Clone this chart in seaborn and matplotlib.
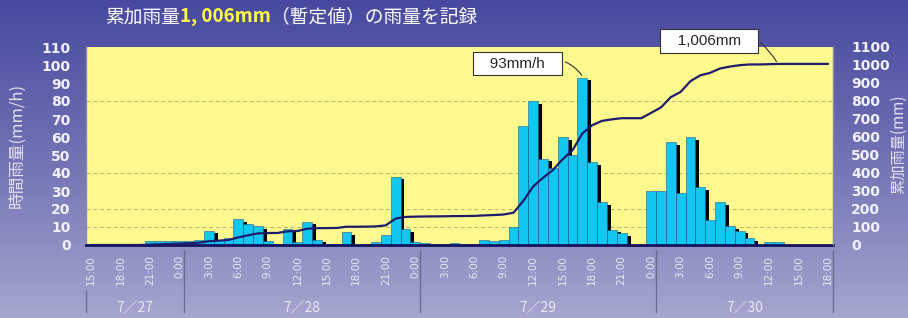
import numpy as np
import pandas as pd
import matplotlib
matplotlib.use('Agg')
import matplotlib.pyplot as plt
from matplotlib import transforms
from matplotlib.colors import LinearSegmentedColormap
import seaborn as sns


# hourly rainfall (mm/h), 7/27 15:00 .. 7/30 18:00 (0:00 = 24:00 of previous day)
rain = [0, 0, 0, 0, 0, 0, 2, 2, 2, 2,
        2, 3, 8, 3, 4, 14.5, 11.5, 10.5, 2, 0.5, 9, 1.5, 13, 3,
        0.5, 0.5, 7, 0, 0.5, 1.5, 5.5, 38, 9, 1.5,
        1, 0.5, 0.5, 1, 0.5, 0.5, 3, 2, 3, 10, 66, 80, 48, 43,
        60, 50, 93, 46, 24, 8.5, 6.5, 0, 0, 30,
        30, 57, 29, 60, 32, 14, 24, 10.5, 8, 4, 0, 1.5, 1.5, 0, 0, 0, 0, 0]

# cumulative rainfall (mm)
cum_rain = [0, 0, 0, 0, 0, 0, 2, 4, 6, 8,
            10, 13, 21, 24, 28, 42.5, 54, 64.5, 66.5, 67, 76, 77.5, 90.5, 93.5,
            94, 94.5, 101.5, 101.5, 102, 103.5, 109, 147, 156, 157.5,
            158.5, 159, 159.5, 160.5, 161, 161.5, 164.5, 166.5, 169.5, 179.5,
            245.5, 325.5, 373.5, 416.5, 476.5, 526.5, 619.5, 665.5, 689.5, 698,
            704.5, 704.5, 704.5, 734.5,
            764.5, 821.5, 850.5, 910.5, 942.5, 956.5, 980.5, 991, 999, 1003,
            1003, 1004.5, 1006, 1006, 1006, 1006, 1006, 1006]

tick_labels = ['15:00', '18:00', '21:00', '0:00',
               '3:00', '6:00', '9:00', '12:00', '15:00', '18:00', '21:00', '0:00',
               '3:00', '6:00', '9:00', '12:00', '15:00', '18:00', '21:00', '0:00',
               '3:00', '6:00', '9:00', '12:00', '15:00', '18:00']
days = ['7／27', '7／28', '7／29', '7／30']
day_hours = [10, 24, 24, 18]
grid_levels = [10, 20, 40, 80]

sns.set_style('white')
plt.rcParams['font.family'] = ['Noto Sans CJK JP', 'DejaVu Sans']

df = pd.DataFrame({'idx': np.arange(len(rain)), 'rain': rain, 'cum': cum_rain})

W, H = 908, 318
fig = plt.figure(figsize=(W / 100, H / 100), dpi=100)

# gradient background
bg = fig.add_axes([0, 0, 1, 1], zorder=-10)
cmap = LinearSegmentedColormap.from_list('bg', ['#4848a0', '#7272b4', '#a6a6cf'])
bg.imshow(np.linspace(0, 1, 256).reshape(-1, 1), aspect='auto', cmap=cmap,
          extent=[0, 1, 0, 1], origin='upper')
bg.axis('off')

ax = fig.add_axes([86 / W, 1 - 245 / H, (833 - 86) / W, (245 - 47) / H])
ax.set_facecolor('#fdf98f')

# bars with a black "3D" shadow
shadow = df['rain'].where(df['rain'] > 1.5, 0) - 1.5
ax.bar(df['idx'], shadow.clip(lower=0), width=0.9, align='edge',
       color='black', lw=0, zorder=1)
sns.barplot(data=df, x='idx', y='rain', ax=ax, color='#12c6f2', saturation=1,
            width=1, edgecolor='#1d5d92', linewidth=0.4, errorbar=None, zorder=2)

for g in grid_levels:
    ax.axhline(g, color='#bdb36a', lw=0.7, ls=(0, (4, 3)), zorder=0.5)

ax.set_ylim(0, 110)
ax.set_yticks(range(0, 111, 10))
ax.set_xlim(-0.5, len(rain) - 0.5)
ax.set_xticks(range(0, len(rain), 3))
ax.set_xticklabels(tick_labels, rotation=90, fontsize=7.5, color='#e8e8f4',
                   family='DejaVu Sans')
ax.tick_params(axis='x', length=0, pad=7)
ax.tick_params(axis='y', length=0, pad=11, labelsize=10, labelcolor='#f2f2ff')
for lab in ax.get_yticklabels():
    lab.set_fontweight('bold')
    lab.set_family('DejaVu Sans')
ax.set_xlabel('')
ax.set_ylabel('')
ax.spines['top'].set_visible(False)
ax.spines['bottom'].set_color('#14145e')
ax.spines['bottom'].set_linewidth(2)
for s in ['left', 'right']:
    ax.spines[s].set_color('#8a8aa8')
    ax.spines[s].set_linewidth(1)

# cumulative line
ax2 = ax.twinx()
sns.lineplot(data=df, x='idx', y='cum', ax=ax2, color='#1d1d6b', lw=1.6)
ax2.set_ylim(0, 1100)
ax2.set_yticks(range(0, 1101, 100))
ax2.tick_params(axis='y', length=0, pad=13, labelsize=10, labelcolor='#f2f2ff')
for lab in ax2.get_yticklabels():
    lab.set_fontweight('bold')
    lab.set_family('DejaVu Sans')
ax2.set_ylabel('')
ax2.set_xlabel('')
for s in ['top', 'bottom', 'left']:
    ax2.spines[s].set_visible(False)
ax2.spines['right'].set_color('#8a8aa8')
ax.set_xlim(-0.5, len(rain) - 0.5)

# day groups below the time labels
trans = transforms.blended_transform_factory(ax.transData, ax.transAxes)
edges = np.concatenate([[0], np.cumsum(day_hours)]) - 0.5
for k, e in enumerate(edges):
    y0 = -0.23 if k == 0 else -0.025
    ax.plot([e, e], [y0, -0.34], transform=trans, color='#6c6c90', lw=1,
            clip_on=False)
for k, d in enumerate(days):
    ax.text((edges[k] + edges[k + 1]) / 2, -0.315, d, transform=trans,
            ha='center', va='center', fontsize=10, color='#e8e8f4')

# annotations
ax.annotate('   93mm/h   ', xy=(50.1, 93), xytext=(43.4, 100.8), ha='center',
            va='center', fontsize=11, family='Liberation Sans',
            bbox=dict(boxstyle='square,pad=0.3', fc='white', ec='#333333', lw=0.8),
            arrowprops=dict(arrowstyle='-', color='#333333', lw=0.8,
                            relpos=(1, 0.8), connectionstyle='arc3,rad=-0.2'),
            annotation_clip=False, zorder=6)
ax2.annotate('   1,006mm   ', xy=(69.9, 1006), xytext=(62.9, 1133), ha='center',
             va='center', fontsize=11, family='Liberation Sans',
             bbox=dict(boxstyle='square,pad=0.3', fc='white', ec='#333333', lw=0.8),
             arrowprops=dict(arrowstyle='-', color='#333333', lw=0.8,
                             relpos=(1, 0.8), connectionstyle='arc3,rad=-0.1'),
             annotation_clip=False, zorder=6)

# axis titles
fig.text(17 / W, 1 - 145 / H, '時間雨量(mm/h)', rotation=90, ha='center',
         va='center', fontsize=12, color='#e2e2f2')
fig.text(899 / W, 1 - 144 / H, '累加雨量(mm)', rotation=90, ha='center',
         va='center', fontsize=11, color='#e2e2f2')

# title in three coloured pieces
renderer = fig.canvas.get_renderer()
x = 105
for txt, col, wt in [('累加雨量', 'white', 'normal'),
                     ('1, 006mm', '#ffff44', 'bold'),
                     ('（暫定値）の雨量を記録', 'white', 'normal')]:
    t = fig.text(x / W, 1 - 17 / H, txt, ha='left', va='center', fontsize=13.5,
                 color=col, fontweight=wt)
    x = t.get_window_extent(renderer).x1

fig.savefig('out.png', dpi=100)
